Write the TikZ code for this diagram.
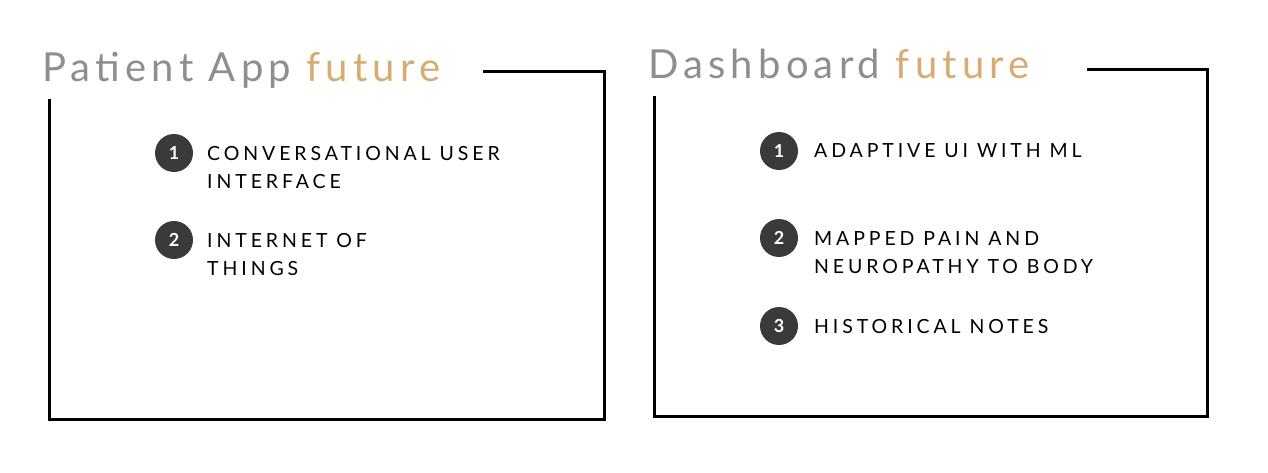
\documentclass[tikz,border=0pt]{standalone}
\usepackage{fontspec}
\setmainfont{Lato}
\newfontfamily\titlefont[LetterSpace=13]{Lato}
\newfontfamily\itemfont[LetterSpace=20]{Lato}
\newfontfamily\numfont{Lato Bold}
\definecolor{titlegray}{HTML}{8E8E8E}
\definecolor{titlegold}{HTML}{D6AC70}
\definecolor{dotgray}{HTML}{3A3A3A}
\tikzset{
  frame/.style={line width=3pt, line cap=rect, black},
  heading/.style={anchor=base west, inner sep=0pt, font=\titlefont\fontsize{40}{40}\selectfont, text=titlegray},
  itemtext/.style={anchor=base west, inner sep=0pt, font=\itemfont\fontsize{19.5}{28}\selectfont, text=black},
  numdot/.style={circle, fill=dotgray, minimum size=38pt, inner sep=0pt, text=white, font=\numfont\fontsize{18}{18}\selectfont}
}
\begin{document}
\begin{tikzpicture}[x=1pt,y=-1pt]
\useasboundingbox (0,0) rectangle (1268,472);
% left panel
\node[heading] (t1) at (42,81) {Patient App \textcolor{titlegold}{future}};
\coordinate (a1) at (484,71);
\coordinate (a2) at (604,71);
\coordinate (a3) at (604,419);
\coordinate (a4) at (49.5,419);
\coordinate (a5) at (49.5,100);
\draw[frame] (a1) -- (a2) -- (a3) -- (a4) -- (a5);
\node[numdot] (l1) at (174,153) {1};
\node[itemtext] (lt1a) at (207,160) {CONVERSATIONAL USER};
\node[itemtext] (lt1b) at (207,188) {INTERFACE};
\node[numdot] (l2) at (174,240) {2};
\node[itemtext] (lt2a) at (207,247) {INTERNET OF};
\node[itemtext] (lt2b) at (207,275) {THINGS};
% right panel
\node[heading] (t2) at (648,78) {Dashboard \textcolor{titlegold}{future}};
\coordinate (b1) at (1088,69.5);
\coordinate (b2) at (1207,69.5);
\coordinate (b3) at (1207,416);
\coordinate (b4) at (654.5,416);
\coordinate (b5) at (654.5,97);
\draw[frame] (b1) -- (b2) -- (b3) -- (b4) -- (b5);
\node[numdot] (r1) at (779,151) {1};
\node[itemtext] (rt1) at (814,157) {ADAPTIVE UI WITH ML};
\node[numdot] (r2) at (779,238) {2};
\node[itemtext] (rt2a) at (814,245) {MAPPED PAIN AND};
\node[itemtext] (rt2b) at (814,273) {NEUROPATHY TO BODY};
\node[numdot] (r3) at (779,326) {3};
\node[itemtext] (rt3) at (814,333) {HISTORICAL NOTES};
\end{tikzpicture}
\end{document}
